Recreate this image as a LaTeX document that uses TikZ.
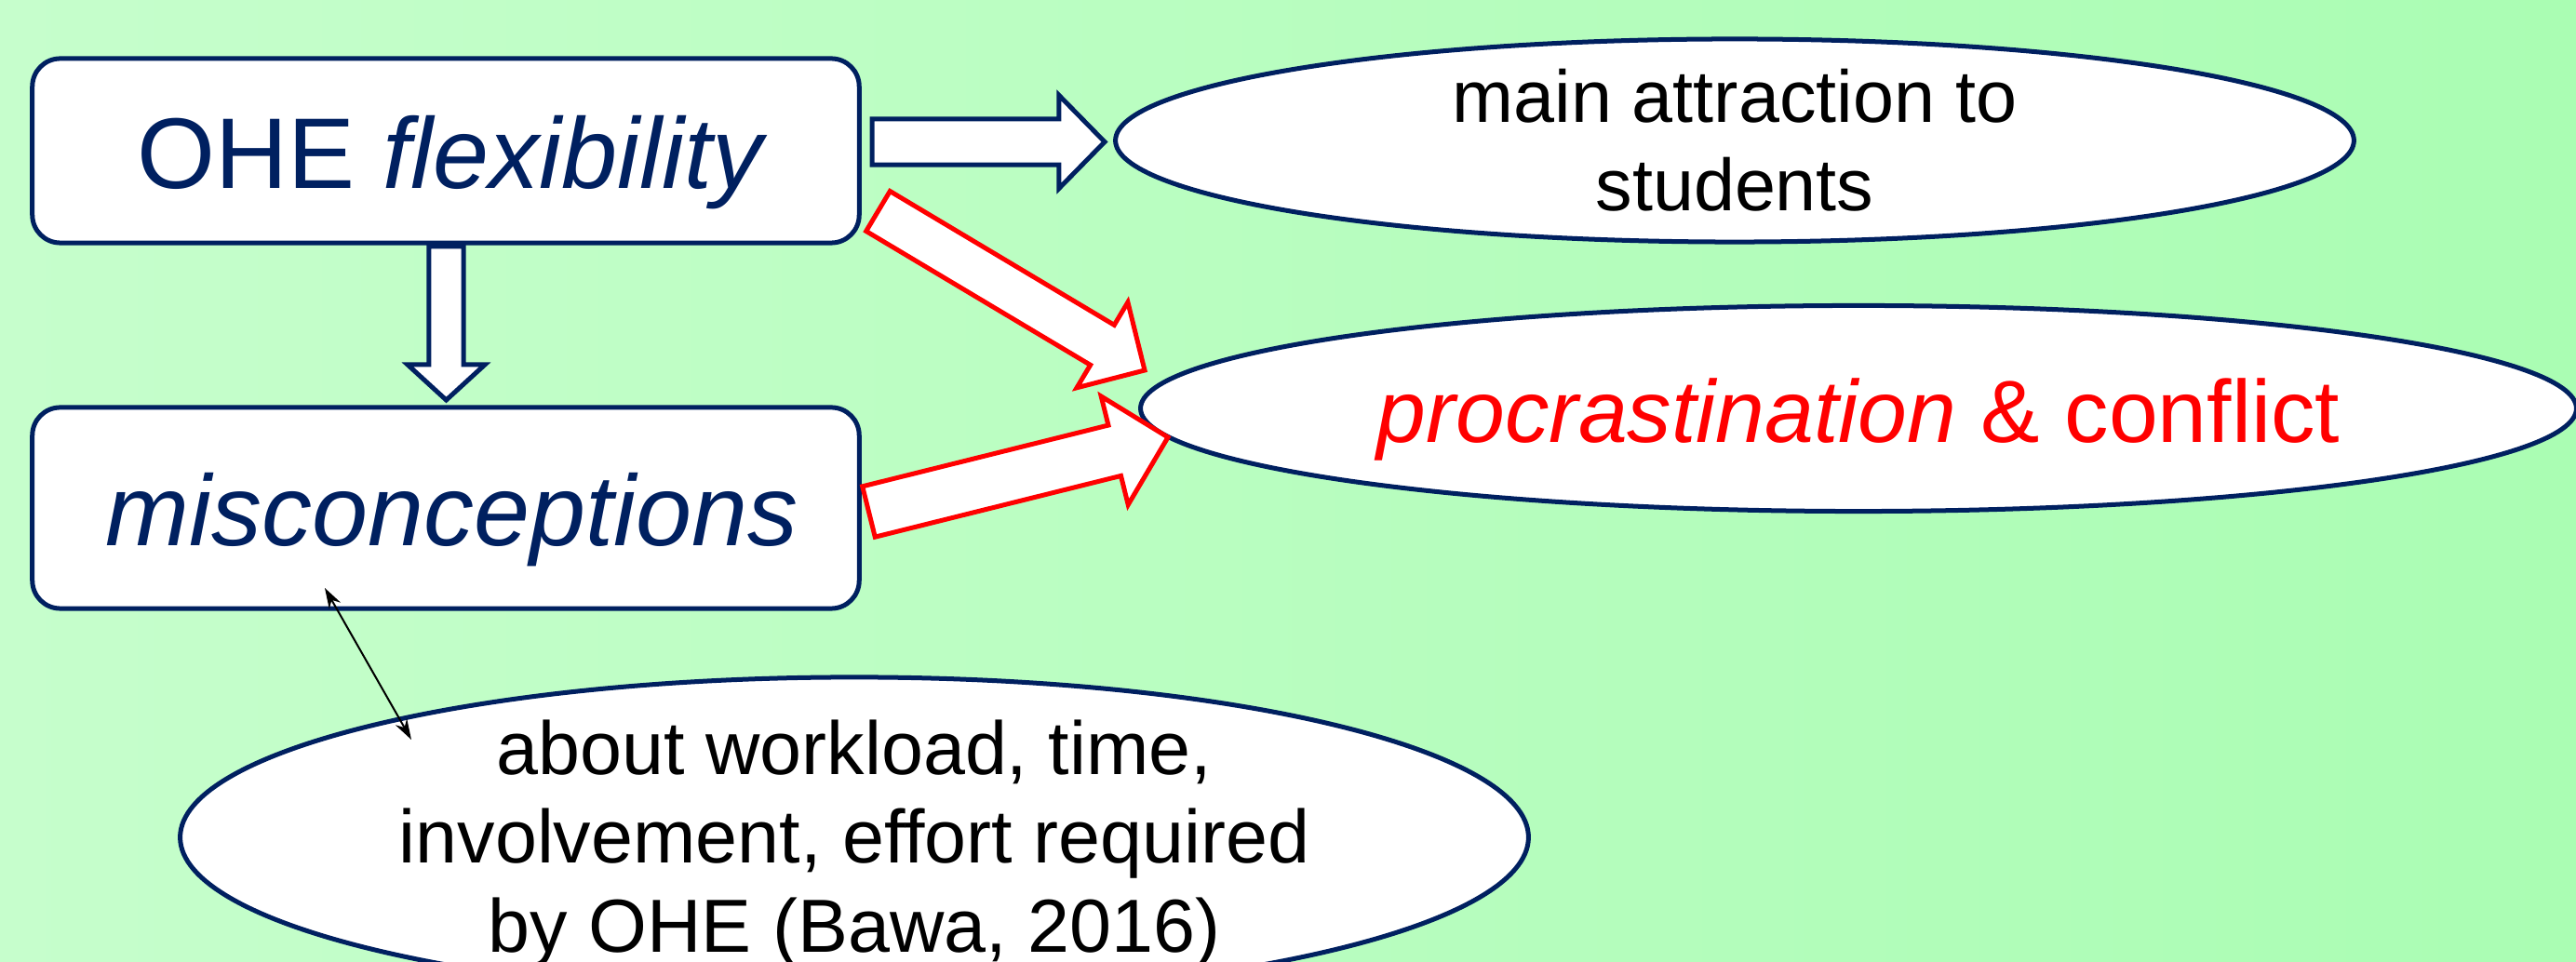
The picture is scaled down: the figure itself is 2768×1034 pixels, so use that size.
\documentclass[tikz,border=0pt]{standalone}
\usepackage{fontspec}
\setmainfont{Liberation Sans}
\usetikzlibrary{shapes.geometric,calc,arrows.meta}
\definecolor{navy}{HTML}{002060}
\definecolor{bgl}{HTML}{C6FECC}
\definecolor{bgr}{HTML}{AAFDB3}
\newcommand{\blockarr}[6]{%
  \path ($(#3)!#6!(#2)$) coordinate (hbase);
  \draw[#1] ($(#2)!#4!90:(#3)$) -- ($(hbase)!#4!90:(#3)$) -- ($(hbase)!#5!90:(#3)$) -- (#3)
    -- ($(hbase)!#5!-90:(#3)$) -- ($(hbase)!#4!-90:(#3)$) -- ($(#2)!#4!-90:(#3)$) -- cycle;
}
\tikzset{
  boxnode/.style={draw=navy, line width=0.05cm, fill=white, rounded corners=0.3cm,
    minimum width=8.88cm, text=navy, font=\fontsize{30.7pt}{36pt}\selectfont,
    text height=0.8cm, text depth=0cm, inner sep=0pt},
  ellnode/.style={ellipse, draw=navy, line width=0.05cm, fill=white, inner sep=0pt},
  bluearr/.style={draw=navy, line width=0.05cm, fill=white, line join=miter},
  redarr/.style={draw=red, line width=0.05cm, fill=white, line join=miter},
  dbl/.style={{Stealth[length=0.22cm,width=0.14cm]}-{Stealth[length=0.22cm,width=0.14cm]},
    line width=0.02cm, black},
}
\begin{document}
\begin{tikzpicture}[x=0.01cm, y=-0.01cm]
\useasboundingbox (0,0) rectangle (2768,1034);
\clip (0,0) rectangle (2768,1034);
\shade[left color=bgl, right color=bgr] (0,0) rectangle (2768,1034);

\node[boxnode, minimum height=1.98cm] (ohe) at (479,162) {\hspace*{0.14cm}OHE \textit{flexibility}};
\node[boxnode, minimum height=2.16cm] (mis) at (479,546) {\hspace*{0.14cm}\textit{misconceptions}};
\node[ellnode, minimum width=13.3cm, minimum height=2.18cm, align=center,
  font=\fontsize{22.5pt}{27pt}\selectfont] (main) at (1864,151) {main attraction to\\students};
\node[ellnode, minimum width=15.42cm, minimum height=2.21cm, text=red,
  font=\fontsize{27pt}{32pt}\selectfont, text height=0.72cm, text depth=0cm] (proc) at (1997,439)
  {\textit{procrastination} \& conflict};
\node[ellnode, minimum width=14.48cm, minimum height=3.44cm] (about) at (918,900) {};
\node[align=center, inner sep=0pt, font=\fontsize{23pt}{27.2pt}\selectfont] (abouttext) at (918,907)
  {about workload, time,\\involvement, effort required\\by OHE (Bawa, 2016)};

% block arrows
\coordinate (ba1) at (937,152.5);  \coordinate (ba1t) at (1187,152.5);
\coordinate (ba2) at (479.5,265);  \coordinate (ba2t) at (479.5,430);
\coordinate (ra1) at (943.5,227);  \coordinate (ra1t) at (1230,398);
\coordinate (ra2) at (933.5,550);  \coordinate (ra2t) at (1255,470);
\blockarr{bluearr}{ba1}{ba1t}{0.245cm}{0.5cm}{0.49cm}
\blockarr{bluearr}{ba2}{ba2t}{0.185cm}{0.415cm}{0.38cm}
\blockarr{redarr}{ra1}{ra1t}{0.25cm}{0.535cm}{0.53cm}
\blockarr{redarr}{ra2}{ra2t}{0.28cm}{0.6cm}{0.59cm}

% double-headed connector
\coordinate (d1) at (349,632);
\coordinate (d2) at (442,795);
\draw[dbl] (d1) -- (d2);
\end{tikzpicture}
\end{document}
